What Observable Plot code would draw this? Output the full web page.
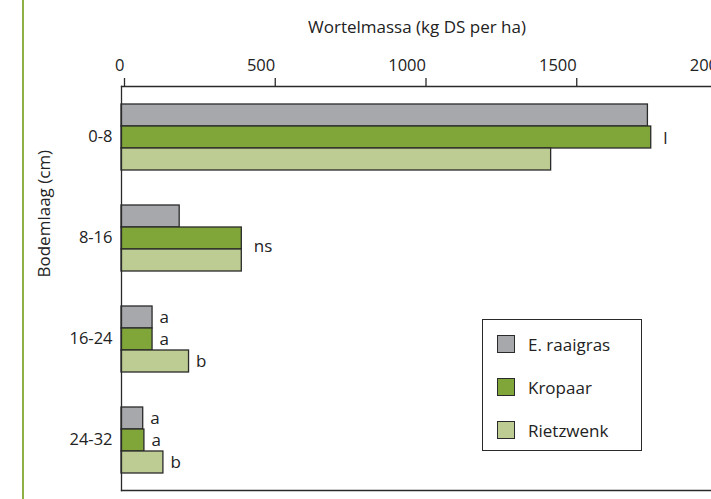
<!DOCTYPE html>
<html>
<head>
<meta charset="utf-8">
<script src="https://cdn.jsdelivr.net/npm/d3@7"></script>
<script src="https://cdn.jsdelivr.net/npm/@observablehq/plot@0.6"></script>
<style>
  html, body { margin: 0; padding: 0; background: #fff; overflow: hidden; }
  #wrap { position: relative; width: 711px; height: 499px; overflow: hidden; }
  #chart svg { max-width: none !important; width: 760px !important; height: 499px !important; display: block; }
  #greenline { position: absolute; left: 22px; top: 0; width: 2px; height: 499px; background: #8db145; }
  #legend { position: absolute; left: 482px; top: 319px; width: 158px; height: 130px;
            border: 1.3px solid #2a2a2a; background: #fff; font-family: "Open Sans", sans-serif;
            font-size: 17px; color: #222; }
  .item { position: absolute; left: 14px; height: 18px; display: flex; align-items: center; }
  .sw { width: 16px; height: 16px; border: 1.3px solid #2a2a2a; margin-right: 13px; }
</style>
</head>
<body>
<div id="wrap">
  <div id="chart"></div>
  <div id="greenline"></div>
  <div id="legend"></div>
</div>
<script>
const depths = ["0-8", "8-16", "16-24", "24-32"];
const species = ["E. raaigras", "Kropaar", "Rietzwenk"];
const raaigras = [1746, 193, 103, 72];
const kropaar = [1757, 399, 103, 76];
const rietzwenk = [1425, 399, 224, 139];
const sigRaaigras = ["", "", "a", "a"];
const sigKropaar = ["l", "ns", "a", "a"];
const sigRietzwenk = ["", "", "b", "b"];
const colors = ["#a7a8ab", "#80a63a", "#bccc92"];
const xTicks = [0, 500, 1000, 1500, 2000];
const xLabel = "Wortelmassa (kg DS per ha)";
const yLabel = "Bodemlaag (cm)";

const seriesVals = [raaigras, kropaar, rietzwenk];
const seriesSig = [sigRaaigras, sigKropaar, sigRietzwenk];
const rows = [];
depths.forEach((d, i) => {
  species.forEach((s, j) => {
    rows.push({depth: d, species: s, value: seriesVals[j][i], sig: seriesSig[j][i]});
  });
});

const ink = "#2a2a2a";
const textOpts = {fy: "depth", y: "species", x: "value", text: "sig", textAnchor: "start", fontSize: 17, fill: "#222"};

const chart = Plot.plot({
  width: 760,
  height: 499,
  marginTop: 86,
  marginBottom: 9,
  marginLeft: 121,
  marginRight: 36,
  style: {fontFamily: "Open Sans, sans-serif", fontSize: "16.5px", color: "#222", background: "transparent"},
  x: {domain: [0, 2000], axis: null},
  y: {domain: species, paddingInner: 0, paddingOuter: 0.74, axis: null},
  fy: {domain: depths, paddingInner: 0, paddingOuter: 0, axis: null, label: null},
  color: {domain: species, range: colors},
  marks: [
    Plot.barX(rows, {fy: "depth", y: "species", x: "value", fill: "species", stroke: ink, strokeWidth: 1.3}),
    Plot.text(rows.filter(r => r.sig.length === 1 && r.sig !== "l"), {...textOpts, dx: 7}),
    Plot.text(rows.filter(r => r.sig === "l"), {...textOpts, dx: 12, dy: 1}),
    Plot.text(rows.filter(r => r.sig === "ns"), {...textOpts, dx: 12, dy: 8}),
    Plot.axisX({anchor: "top", ticks: xTicks, tickFormat: d => String(d), tickSize: 9, tickPadding: 7, label: null, stroke: ink, strokeWidth: 1.3, fontSize: 16.5, textAnchor: "end", dx: 3}),
    Plot.axisFy({anchor: "left", tickSize: 0, tickPadding: 9, label: null, fontSize: 16.5}),
    Plot.frame({facet: "super", anchor: "top", stroke: ink, strokeWidth: 1.3}),
    Plot.frame({facet: "super", anchor: "left", stroke: ink, strokeWidth: 1.3}),
    Plot.frame({facet: "super", anchor: "bottom", stroke: ink, strokeWidth: 1.3}),
    Plot.text([xLabel], {facet: "super", frameAnchor: "top", text: d => d, dy: -54, dx: -6, lineAnchor: "bottom", fontSize: 17}),
    Plot.text([yLabel], {facet: "super", frameAnchor: "left", text: d => d, rotate: -90, dx: -77, dy: -11, fontSize: 17})
  ]
});
document.getElementById("chart").appendChild(chart);

const legend = document.getElementById("legend");
species.forEach((s, j) => {
  const item = document.createElement("div");
  item.className = "item";
  item.style.top = (15 + j * 43) + "px";
  const sw = document.createElement("div");
  sw.className = "sw";
  sw.style.background = colors[j];
  const lab = document.createElement("span");
  lab.textContent = s;
  item.appendChild(sw);
  item.appendChild(lab);
  legend.appendChild(item);
});
</script>
</body>
</html>
